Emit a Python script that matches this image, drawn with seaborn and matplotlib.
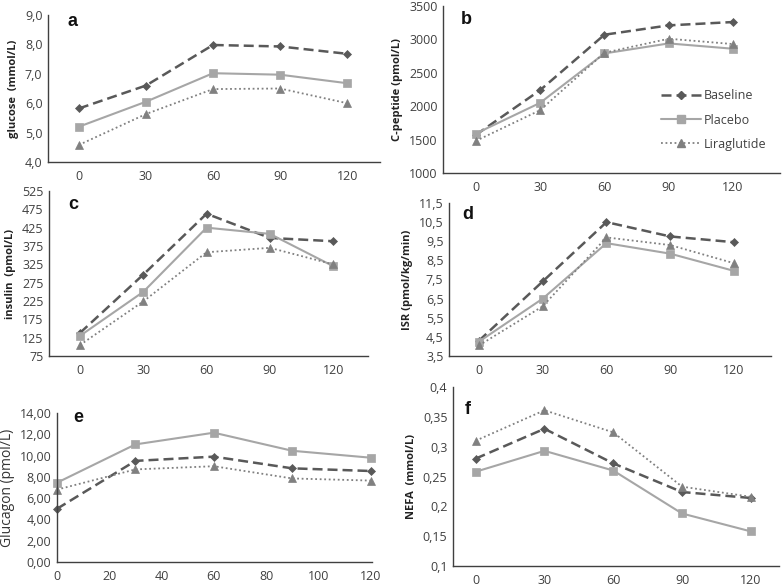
import numpy as np
import pandas as pd
import matplotlib
matplotlib.use("Agg")
import matplotlib.pyplot as plt
import seaborn as sns
from matplotlib.ticker import FuncFormatter, FixedLocator, MultipleLocator
from matplotlib.lines import Line2D

# data
groups = ["Baseline", "Placebo", "Liraglutide"]
times = [0, 30, 60, 90, 120]

glucose_base = [5.82, 6.60, 7.98, 7.93, 7.68]
glucose_plac = [5.20, 6.05, 7.02, 6.97, 6.68]
glucose_lira = [4.58, 5.63, 6.48, 6.50, 6.00]

cpep_base = [1570, 2240, 3070, 3210, 3260]
cpep_plac = [1590, 2050, 2790, 2940, 2860]
cpep_lira = [1480, 1940, 2800, 3010, 2930]

insulin_base = [138, 297, 463, 397, 388]
insulin_plac = [130, 250, 425, 408, 320]
insulin_lira = [105, 224, 358, 370, 325]

isr_base = [4.30, 7.40, 10.50, 9.75, 9.45]
isr_plac = [4.25, 6.50, 9.40, 8.85, 7.95]
isr_lira = [4.05, 6.10, 9.70, 9.30, 8.35]

glucagon_base = [5.00, 9.50, 9.90, 8.80, 8.55]
glucagon_plac = [7.45, 11.05, 12.15, 10.45, 9.80]
glucagon_lira = [6.80, 8.70, 9.00, 7.85, 7.65]

nefa_base = [0.280, 0.330, 0.272, 0.224, 0.214]
nefa_plac = [0.258, 0.293, 0.260, 0.188, 0.158]
nefa_lira = [0.310, 0.361, 0.324, 0.233, 0.216]

colors = {"Baseline": "#595959", "Placebo": "#a6a6a6", "Liraglutide": "#808080"}
markers = {"Baseline": "D", "Placebo": "s", "Liraglutide": "^"}
msizes = {"Baseline": 4, "Placebo": 6, "Liraglutide": 6}
lstyles = {"Baseline": (0, (4, 2)), "Placebo": "-", "Liraglutide": (0, (1, 1.5))}
lwidths = {"Baseline": 1.8, "Placebo": 1.5, "Liraglutide": 1.3}


def long_df(base, plac, lira):
    rows = []
    for g, vals in zip(groups, [base, plac, lira]):
        for t, v in zip(times, vals):
            rows.append({"time": t, "value": v, "group": g})
    return pd.DataFrame(rows)


def comma(fmt):
    return FuncFormatter(lambda v, p: (fmt % v).replace(".", ","))


sns.set_theme(style="white")
plt.rcParams["font.family"] = ["Open Sans", "DejaVu Sans"]

W, H = 782, 587
fig = plt.figure(figsize=(W / 100, H / 100), dpi=100)


def px_axes(left, top, right, bottom):
    return fig.add_axes([left / W, 1 - bottom / H, (right - left) / W, (bottom - top) / H])


panels = [
    # letter, data, ylabel, ylim, step, fmt, rect(px), xlim, native, letter pos
    ("a", (glucose_base, glucose_plac, glucose_lira), "glucose  (mmol/L)", (4, 9), 1, "%.1f",
     (48, 15, 380, 162), (-0.46, 4.49), False, (68, 22)),
    ("b", (cpep_base, cpep_plac, cpep_lira), "C-peptide (pmol/L)", (1000, 3500), 500, "%.0f",
     (443, 6, 780, 173), (-0.51, 4.73), False, (461, 20)),
    ("c", (insulin_base, insulin_plac, insulin_lira), "insulin  (pmol/L)", (75, 525), 50, "%.0f",
     (49, 191, 368, 356), (-0.49, 4.55), False, (68, 205)),
    ("d", (isr_base, isr_plac, isr_lira), "ISR (pmol/kg/min)", (3.5, 11.5), 1, "%.1f",
     (449, 203, 771, 356), (-0.47, 4.58), False, (462, 214)),
    ("e", (glucagon_base, glucagon_plac, glucagon_lira), "Glucagon (pmol/L)", (0, 14), 2, "%.2f",
     (57, 413, 372, 562), (0, 120.5), True, (73, 417)),
    ("f", (nefa_base, nefa_plac, nefa_lira), "NEFA  (mmol/L)", (0.1, 0.4), 0.05, "%g",
     (453, 387, 779, 566), (-0.33, 4.41), False, (465, 410)),
]

for letter, vals, ylabel, ylim, step, fmt, rect, xlim, native, lpos in panels:
    ax = px_axes(*rect)
    df = long_df(*vals)
    sns.pointplot(data=df, x="time", y="value", hue="group", hue_order=groups,
                  palette=colors, errorbar=None, native_scale=native,
                  markers=[markers[g] for g in groups],
                  linestyles=["-", "-", "-"], legend=False, ax=ax)
    for line, g in zip(ax.lines, groups):
        line.set_linestyle(lstyles[g])
        line.set_linewidth(lwidths[g])
        line.set_markersize(msizes[g])
        line.set_markeredgewidth(0.5)
        line.set_clip_on(False)
    ax.set_ylim(*ylim)
    ax.set_xlim(*xlim)
    yt = np.round(np.arange(ylim[0], ylim[1] + step / 2, step), 4)
    ax.yaxis.set_major_locator(FixedLocator(yt))
    ax.yaxis.set_major_formatter(comma(fmt))
    if native:
        ax.xaxis.set_major_locator(MultipleLocator(20))
    ax.set_xlabel("")
    if letter == "e":
        ax.set_ylabel(ylabel, fontsize=10, color="#333333", labelpad=3)
    else:
        ax.set_ylabel(ylabel, fontsize=8, fontweight="bold", color="#222222", labelpad=4)
    ax.tick_params(axis="both", length=0, labelsize=9, colors="#404040", pad=6)
    ax.tick_params(axis="y", pad=4)
    for s in ["top", "right"]:
        ax.spines[s].set_visible(False)
    for s in ["left", "bottom"]:
        ax.spines[s].set_color("#404040")
        ax.spines[s].set_linewidth(1.0)
    fig.text(lpos[0] / W, 1 - lpos[1] / H, letter, fontsize=13, fontweight="bold",
             family=["Liberation Sans", "DejaVu Sans"], va="center", ha="left", color="#111111")

handles = [Line2D([], [], color=colors[g], linestyle=lstyles[g], linewidth=lwidths[g],
                  marker=markers[g], markersize=msizes[g]) for g in groups]
fig.legend(handles, groups, loc="upper left", bbox_to_anchor=(650 / W, 1 - 78 / H),
           frameon=False, fontsize=9, handlelength=3.2, labelspacing=0.9,
           handletextpad=0.2, labelcolor="#404040")

fig.savefig("out.png", dpi=100)
